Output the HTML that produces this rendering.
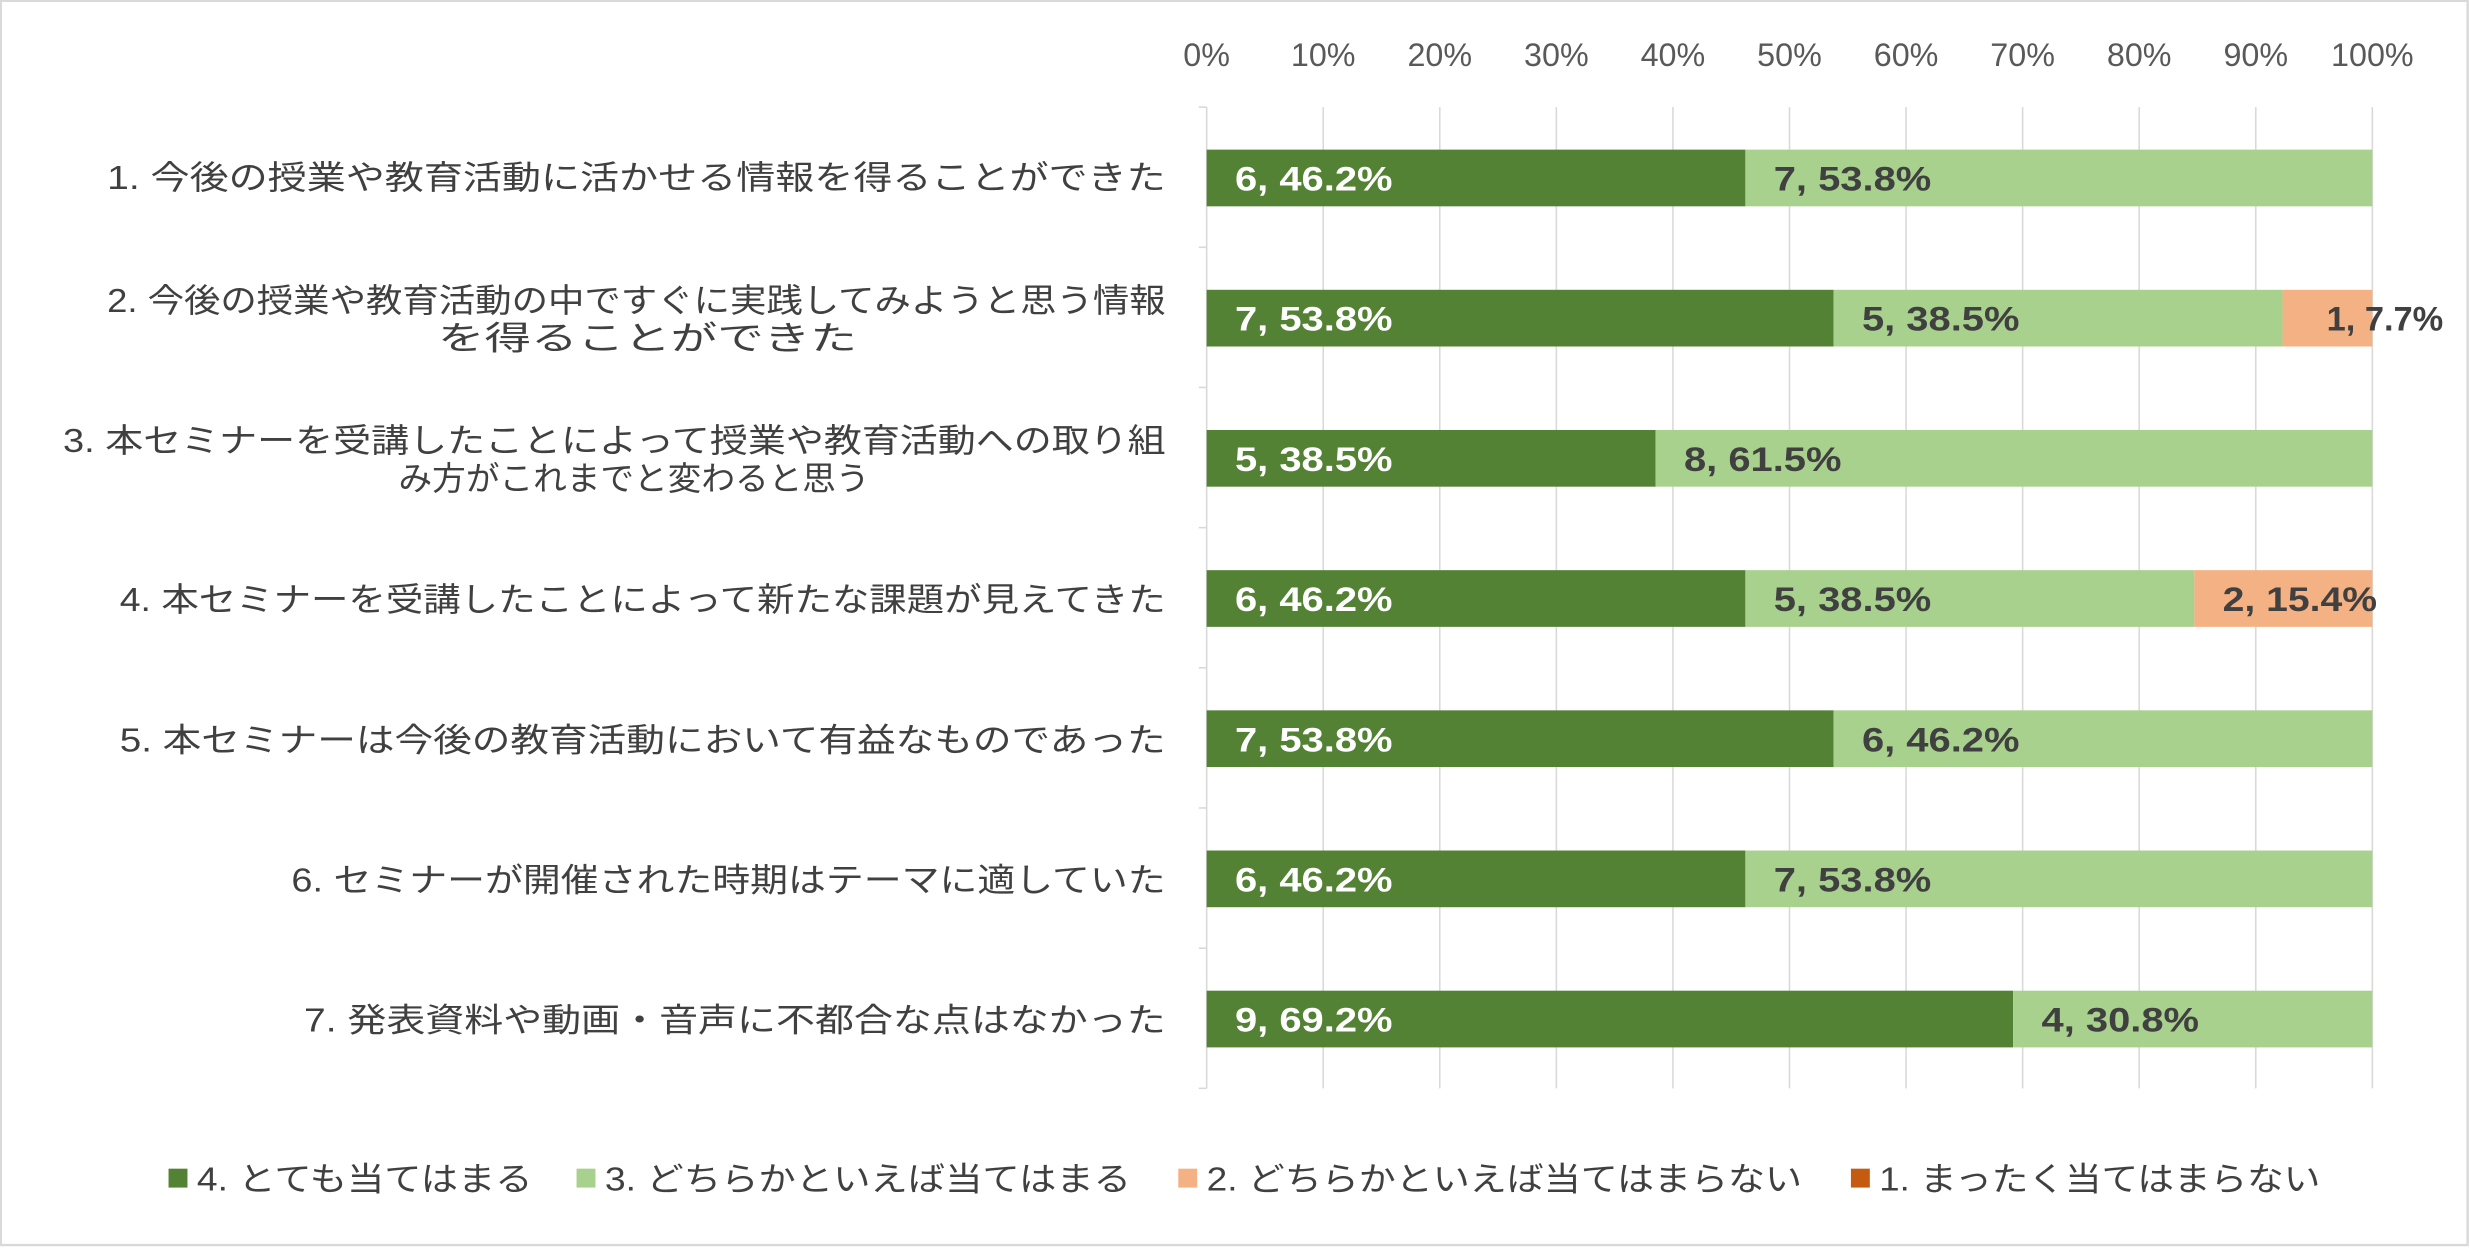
<!DOCTYPE html>
<html><head><meta charset="utf-8"><style>
html,body{margin:0;padding:0;background:#fff;}
svg{display:block;}
text{font-family:"Liberation Sans","Noto Sans CJK JP",sans-serif;}
</style></head><body>
<svg width="2470" height="1249" viewBox="0 0 1568 793" preserveAspectRatio="none" xmlns="http://www.w3.org/2000/svg">
<rect x="0" y="0" width="1568" height="793" fill="#fff"/>
<rect x="0.5" y="0.5" width="1566" height="790" fill="none" stroke="#d9d9d9" stroke-width="1.5"/>
<g stroke="#d9d9d9" stroke-width="1">
<line x1="840" y1="68" x2="840" y2="691"/><line x1="914" y1="68" x2="914" y2="691"/>
<line x1="988" y1="68" x2="988" y2="691"/><line x1="1062" y1="68" x2="1062" y2="691"/>
<line x1="1136" y1="68" x2="1136" y2="691"/><line x1="1210" y1="68" x2="1210" y2="691"/>
<line x1="1284" y1="68" x2="1284" y2="691"/><line x1="1358" y1="68" x2="1358" y2="691"/>
<line x1="1432" y1="68" x2="1432" y2="691"/><line x1="1506" y1="68" x2="1506" y2="691"/>
<line x1="766" y1="68" x2="766" y2="691"/>
<line x1="761" y1="68" x2="766" y2="68"/><line x1="761" y1="157" x2="766" y2="157"/>
<line x1="761" y1="246" x2="766" y2="246"/><line x1="761" y1="335" x2="766" y2="335"/>
<line x1="761" y1="424" x2="766" y2="424"/><line x1="761" y1="513" x2="766" y2="513"/>
<line x1="761" y1="602" x2="766" y2="602"/><line x1="761" y1="691" x2="766" y2="691"/>
</g>
<g fill="#595959" font-size="20.5" text-anchor="middle">
<text x="766" y="42">0%</text><text x="840" y="42">10%</text><text x="914" y="42">20%</text>
<text x="988" y="42">30%</text><text x="1062" y="42">40%</text><text x="1136" y="42">50%</text>
<text x="1210" y="42">60%</text><text x="1284" y="42">70%</text><text x="1358" y="42">80%</text>
<text x="1432" y="42">90%</text><text x="1506" y="42">100%</text>
</g>
<g>
<rect x="766" y="95" width="342" height="36" fill="#548235"/><rect x="1108" y="95" width="398" height="36" fill="#A9D18E"/>
<rect x="766" y="184" width="398" height="36" fill="#548235"/><rect x="1164" y="184" width="285" height="36" fill="#A9D18E"/><rect x="1449" y="184" width="57" height="36" fill="#F4B183"/>
<rect x="766" y="273" width="285" height="36" fill="#548235"/><rect x="1051" y="273" width="455" height="36" fill="#A9D18E"/>
<rect x="766" y="362" width="342" height="36" fill="#548235"/><rect x="1108" y="362" width="285" height="36" fill="#A9D18E"/><rect x="1393" y="362" width="113" height="36" fill="#F4B183"/>
<rect x="766" y="451" width="398" height="36" fill="#548235"/><rect x="1164" y="451" width="342" height="36" fill="#A9D18E"/>
<rect x="766" y="540" width="342" height="36" fill="#548235"/><rect x="1108" y="540" width="398" height="36" fill="#A9D18E"/>
<rect x="766" y="629" width="512" height="36" fill="#548235"/><rect x="1278" y="629" width="228" height="36" fill="#A9D18E"/>
</g>
<g font-size="22" font-weight="bold">
<text x="784" y="121" fill="#fff" textLength="100" lengthAdjust="spacingAndGlyphs">6, 46.2%</text>
<text x="1126" y="121" fill="#404040" textLength="100" lengthAdjust="spacingAndGlyphs">7, 53.8%</text>
<text x="784" y="210" fill="#fff" textLength="100" lengthAdjust="spacingAndGlyphs">7, 53.8%</text>
<text x="1182" y="210" fill="#404040" textLength="100" lengthAdjust="spacingAndGlyphs">5, 38.5%</text>
<text x="1477" y="210" fill="#404040" textLength="74" lengthAdjust="spacingAndGlyphs">1, 7.7%</text>
<text x="784" y="299" fill="#fff" textLength="100" lengthAdjust="spacingAndGlyphs">5, 38.5%</text>
<text x="1069" y="299" fill="#404040" textLength="100" lengthAdjust="spacingAndGlyphs">8, 61.5%</text>
<text x="784" y="388" fill="#fff" textLength="100" lengthAdjust="spacingAndGlyphs">6, 46.2%</text>
<text x="1126" y="388" fill="#404040" textLength="100" lengthAdjust="spacingAndGlyphs">5, 38.5%</text>
<text x="1411" y="388" fill="#404040" textLength="98" lengthAdjust="spacingAndGlyphs">2, 15.4%</text>
<text x="784" y="477" fill="#fff" textLength="100" lengthAdjust="spacingAndGlyphs">7, 53.8%</text>
<text x="1182" y="477" fill="#404040" textLength="100" lengthAdjust="spacingAndGlyphs">6, 46.2%</text>
<text x="784" y="566" fill="#fff" textLength="100" lengthAdjust="spacingAndGlyphs">6, 46.2%</text>
<text x="1126" y="566" fill="#404040" textLength="100" lengthAdjust="spacingAndGlyphs">7, 53.8%</text>
<text x="784" y="655" fill="#fff" textLength="100" lengthAdjust="spacingAndGlyphs">9, 69.2%</text>
<text x="1296" y="655" fill="#404040" textLength="100" lengthAdjust="spacingAndGlyphs">4, 30.8%</text>
</g>
<g fill="#404040" font-size="21" text-anchor="end">
<text x="740" y="120" textLength="672" lengthAdjust="spacingAndGlyphs">1. 今後の授業や教育活動に活かせる情報を得ることができた</text>
<text x="740" y="198" textLength="672" lengthAdjust="spacingAndGlyphs">2. 今後の授業や教育活動の中ですぐに実践してみようと思う情報</text>
<text x="544" y="222" textLength="266" lengthAdjust="spacingAndGlyphs">を得ることができた</text>
<text x="740" y="287" textLength="700" lengthAdjust="spacingAndGlyphs">3. 本セミナーを受講したことによって授業や教育活動への取り組</text>
<text x="552" y="311" textLength="299" lengthAdjust="spacingAndGlyphs">み方がこれまでと変わると思う</text>
<text x="740" y="388" textLength="664" lengthAdjust="spacingAndGlyphs">4. 本セミナーを受講したことによって新たな課題が見えてきた</text>
<text x="740" y="477" textLength="664" lengthAdjust="spacingAndGlyphs">5. 本セミナーは今後の教育活動において有益なものであった</text>
<text x="740" y="566" textLength="555" lengthAdjust="spacingAndGlyphs">6. セミナーが開催された時期はテーマに適していた</text>
<text x="740" y="655" textLength="547" lengthAdjust="spacingAndGlyphs">7. 発表資料や動画・音声に不都合な点はなかった</text>
</g>
<g font-size="21" fill="#404040">
<rect x="107" y="742" width="12" height="12" fill="#548235"/>
<text x="125" y="756" textLength="213" lengthAdjust="spacingAndGlyphs">4. とても当てはまる</text>
<rect x="366" y="742" width="12" height="12" fill="#A9D18E"/>
<text x="384" y="756" textLength="334" lengthAdjust="spacingAndGlyphs">3. どちらかといえば当てはまる</text>
<rect x="748" y="742" width="12" height="12" fill="#F4B183"/>
<text x="766" y="756" textLength="378" lengthAdjust="spacingAndGlyphs">2. どちらかといえば当てはまらない</text>
<rect x="1175" y="742" width="12" height="12" fill="#C55A11"/>
<text x="1193" y="756" textLength="280" lengthAdjust="spacingAndGlyphs">1. まったく当てはまらない</text>
</g>
</svg>
</body></html>
